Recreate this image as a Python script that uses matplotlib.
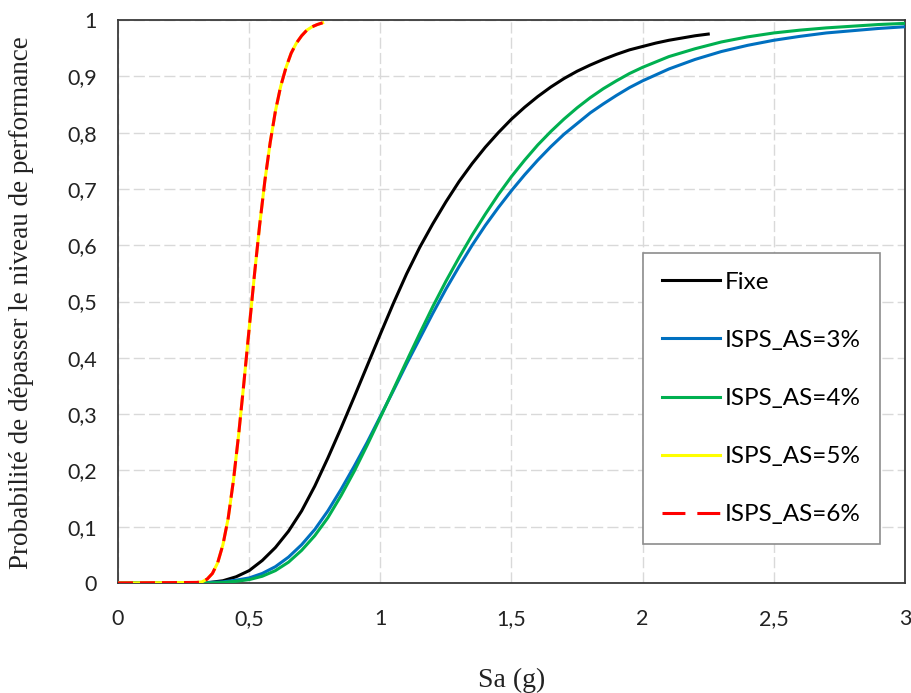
import matplotlib
matplotlib.use("Agg")
import matplotlib.pyplot as plt
from matplotlib.ticker import FixedLocator, FixedFormatter

# ---- data: probability of exceeding the performance level vs Sa (g) ----
sa_fixe = [0.00, 0.30, 0.35, 0.40, 0.45, 0.50, 0.55, 0.60, 0.65, 0.70, 0.75,
           0.80, 0.85, 0.90, 0.95, 1.00, 1.05, 1.10, 1.15, 1.20, 1.25, 1.30,
           1.35, 1.40, 1.45, 1.50, 1.55, 1.60, 1.65, 1.70, 1.75, 1.80, 1.85,
           1.90, 1.95, 2.00, 2.05, 2.10, 2.15, 2.20, 2.25]
p_fixe = [0.000, 0.000, 0.001, 0.004, 0.011, 0.022, 0.040, 0.063, 0.092,
          0.128, 0.172, 0.222, 0.275, 0.330, 0.386, 0.442, 0.497, 0.549,
          0.596, 0.638, 0.677, 0.713, 0.745, 0.774, 0.800, 0.824, 0.845,
          0.864, 0.881, 0.896, 0.909, 0.920, 0.930, 0.939, 0.947, 0.953,
          0.959, 0.964, 0.968, 0.972, 0.975]

sa_isps = [0.00, 0.30, 0.35, 0.40, 0.45, 0.50, 0.55, 0.60, 0.65, 0.70, 0.75,
           0.80, 0.85, 0.90, 0.95, 1.00, 1.05, 1.10, 1.15, 1.20, 1.25, 1.30,
           1.35, 1.40, 1.45, 1.50, 1.55, 1.60, 1.65, 1.70, 1.75, 1.80, 1.85,
           1.90, 1.95, 2.00, 2.10, 2.20, 2.30, 2.40, 2.50, 2.60, 2.70, 2.80,
           2.90, 3.00]
p_as3 = [0.000, 0.000, 0.001, 0.002, 0.005, 0.009, 0.017, 0.029, 0.046, 0.068,
         0.095, 0.128, 0.166, 0.207, 0.250, 0.296, 0.342, 0.389, 0.434, 0.479,
         0.522, 0.562, 0.600, 0.635, 0.667, 0.697, 0.725, 0.751, 0.775, 0.797,
         0.816, 0.835, 0.851, 0.866, 0.880, 0.892, 0.913, 0.930, 0.944, 0.955,
         0.964, 0.971, 0.977, 0.981, 0.985, 0.988]
p_as4 = [0.000, 0.000, 0.000, 0.001, 0.003, 0.006, 0.012, 0.022, 0.037, 0.058,
         0.084, 0.116, 0.155, 0.198, 0.245, 0.294, 0.344, 0.394, 0.443, 0.491,
         0.536, 0.578, 0.618, 0.655, 0.690, 0.722, 0.751, 0.778, 0.802, 0.824,
         0.844, 0.862, 0.878, 0.892, 0.905, 0.916, 0.935, 0.949, 0.961, 0.970,
         0.977, 0.982, 0.986, 0.989, 0.992, 0.994]

sa_low = [0.00, 0.30, 0.32, 0.34, 0.36, 0.38, 0.40, 0.42, 0.44, 0.46, 0.48,
          0.50, 0.52, 0.54, 0.56, 0.58, 0.60, 0.62, 0.64, 0.66, 0.68, 0.70,
          0.72, 0.74, 0.76, 0.78]
p_as5 = [0.000, 0.001, 0.002, 0.007, 0.017, 0.036, 0.068, 0.115, 0.182, 0.264,
         0.356, 0.452, 0.547, 0.636, 0.715, 0.782, 0.838, 0.882, 0.915, 0.941,
         0.959, 0.972, 0.982, 0.988, 0.992, 0.995]
p_as6 = [0.000, 0.001, 0.002, 0.007, 0.017, 0.036, 0.068, 0.115, 0.182, 0.264,
         0.356, 0.452, 0.547, 0.636, 0.715, 0.782, 0.838, 0.882, 0.915, 0.941,
         0.959, 0.972, 0.982, 0.988, 0.992, 0.995]

x_ticks = [0, 0.5, 1, 1.5, 2, 2.5, 3]
x_tick_labels = ["0", "0,5", "1", "1,5", "2", "2,5", "3"]
y_ticks = [0, 0.1, 0.2, 0.3, 0.4, 0.5, 0.6, 0.7, 0.8, 0.9, 1]
y_tick_labels = ["0", "0,1", "0,2", "0,3", "0,4", "0,5", "0,6", "0,7", "0,8",
                 "0,9", "1"]

labels = ["Fixe", "ISPS_AS=3%", "ISPS_AS=4%", "ISPS_AS=5%", "ISPS_AS=6%"]

# ---- figure ----
W, H = 912, 693
fig = plt.figure(figsize=(W / 100, H / 100), dpi=100)
left, right, top, bottom = 118, 905, 20, 583
ax = fig.add_axes([left / W, (H - bottom) / H, (right - left) / W, (bottom - top) / H])

sans = "Lato"
serif = "Liberation Serif"

lw = 2.2
ax.plot(sa_fixe, p_fixe, color="black", lw=lw, label=labels[0], zorder=3)
ax.plot(sa_isps, p_as3, color="#0070C0", lw=lw, label=labels[1], zorder=3)
ax.plot(sa_isps, p_as4, color="#00B050", lw=lw, label=labels[2], zorder=3)
ax.plot(sa_low, p_as5, color="#FFFF00", lw=lw, label=labels[3], zorder=4)
ax.plot(sa_low, p_as6, color="#FF0000", lw=lw, label=labels[4], zorder=5,
        dashes=(4.9, 2.3))

ax.set_xlim(0, 3)
ax.set_ylim(0, 1)

ax.xaxis.set_major_locator(FixedLocator(x_ticks))
ax.xaxis.set_major_formatter(FixedFormatter(x_tick_labels))
ax.yaxis.set_major_locator(FixedLocator(y_ticks))
ax.yaxis.set_major_formatter(FixedFormatter(y_tick_labels))
ax.tick_params(axis="both", length=0, labelsize=15.5, colors="#222222")
ax.tick_params(axis="x", pad=19)
ax.tick_params(axis="y", pad=15)
for lab in ax.get_xticklabels() + ax.get_yticklabels():
    lab.set_fontfamily(sans)

ax.grid(True, color="#D9D9D9", lw=1.0, linestyle=(0, (8, 3)), zorder=0)
ax.set_axisbelow(True)
for s in ax.spines.values():
    s.set_color("#3a3a3a")
    s.set_linewidth(1.3)

fig.text(512 / W, 1 - 680 / H, "Sa (g)", family=serif, fontsize=20,
         ha="center", va="center", color="#222222")
fig.text(22 / W, 1 - 303 / H, "Probabilité de dépasser le niveau de performance",
         family=serif, fontsize=19.5, rotation=90, ha="center", va="center",
         color="#222222")

leg = ax.legend(loc="upper left", bbox_to_anchor=(0.6675, 0.5867),
                prop={"family": sans, "size": 17.5}, frameon=True, fancybox=False,
                edgecolor="#8c8c8c", framealpha=1, handlelength=2.37,
                handletextpad=0.2, labelspacing=1.53, borderpad=0.78,
                borderaxespad=0)
leg.get_frame().set_linewidth(1.2)
leg_lines = leg.get_lines()
leg_lines[4].set_dashes((7.5, 3.9))

fig.savefig("out.png", dpi=100, facecolor="white")
